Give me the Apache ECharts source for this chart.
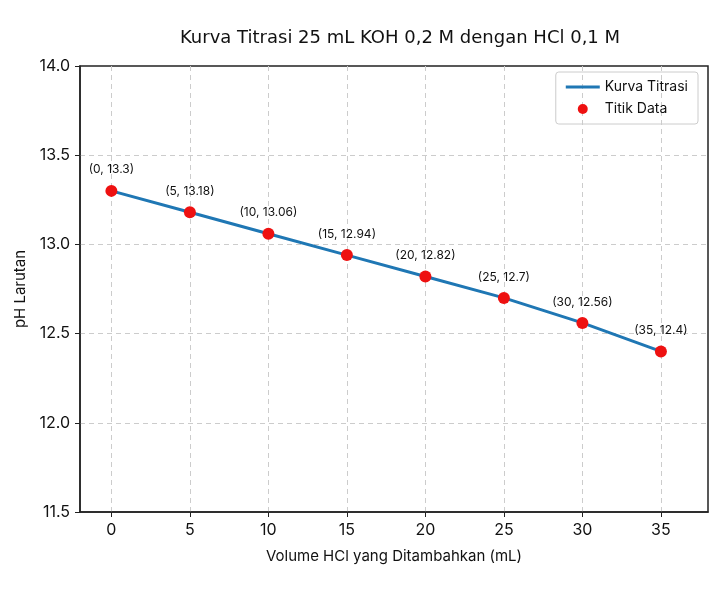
<!DOCTYPE html>
<html>
<head>
<meta charset="utf-8">
<script src="https://cdn.jsdelivr.net/npm/echarts@6/dist/echarts.min.js"></script>
<style>
  html, body { margin: 0; padding: 0; background: #fff; }
  #chart { width: 720px; height: 609px; }
</style>
</head>
<body>
<div id="chart"></div>
<script>
// data
const volumes = [0, 5, 10, 15, 20, 25, 30, 35];
const phValues = [13.3, 13.18, 13.06, 12.94, 12.82, 12.7, 12.56, 12.4];
const xTicks = [0, 5, 10, 15, 20, 25, 30, 35];

const points = volumes.map((v, i) => [v, phValues[i]]);
const font = 'Inter, "DejaVu Sans", sans-serif';

const chart = echarts.init(document.getElementById('chart'));

chart.setOption({
  animation: false,
  title: {
    text: 'Kurva Titrasi 25 mL KOH 0,2 M dengan HCl 0,1 M',
    left: 395,
    top: 24,
    textAlign: 'center',
    textStyle: { fontFamily: '"DejaVu Sans", sans-serif', fontSize: 18, fontWeight: 'normal', color: '#111' }
  },
  legend: {
    right: 22,
    top: 72,
    orient: 'vertical',
    itemGap: 8,
    padding: [8, 10, 8, 10],
    borderColor: '#ccc',
    borderWidth: 1,
    borderRadius: 3,
    itemWidth: 34,
    itemHeight: 10,
    textStyle: { fontFamily: font, fontSize: 14, color: '#111' },
    data: [
      { name: 'Kurva Titrasi', icon: 'path://M0,3.5 L34,3.5 L34,6.5 L0,6.5 Z' },
      { name: 'Titik Data', icon: 'circle' }
    ]
  },
  grid: { left: 80, top: 66, right: 12, bottom: 97, show: true, borderColor: '#222', borderWidth: 1.5 },
  xAxis: {
    type: 'value',
    min: -2,
    max: 38,
    name: 'Volume HCl yang Ditambahkan (mL)',
    nameLocation: 'middle',
    nameGap: 37,
    nameTextStyle: { fontFamily: font, fontSize: 15, color: '#111' },
    axisLine: { show: true, onZero: false, lineStyle: { color: '#222', width: 1.5 } },
    axisTick: { show: true, customValues: xTicks, length: 5, lineStyle: { color: '#222' } },
    axisLabel: { customValues: xTicks, fontFamily: font, fontSize: 16, color: '#111', margin: 10 },
    splitLine: { show: true, lineStyle: { color: '#ccc', type: [5, 4] } }
  },
  yAxis: {
    type: 'value',
    min: 11.5,
    max: 14.0,
    interval: 0.5,
    name: 'pH Larutan',
    nameLocation: 'middle',
    nameGap: 52,
    nameTextStyle: { fontFamily: font, fontSize: 15, color: '#111' },
    axisLine: { show: true, onZero: false, lineStyle: { color: '#222', width: 1.5 } },
    axisTick: { show: true, length: 5, lineStyle: { color: '#222' } },
    axisLabel: {
      fontFamily: font, fontSize: 16, color: '#111', margin: 10,
      formatter: v => v.toFixed(1)
    },
    splitLine: { show: true, showMinLine: false, showMaxLine: false, lineStyle: { color: '#ccc', type: [5, 4] } }
  },
  series: [
    {
      name: 'Kurva Titrasi',
      type: 'line',
      data: points,
      showSymbol: false,
      lineStyle: { color: '#1f77b4', width: 3 },
      itemStyle: { color: '#1f77b4' },
      z: 2
    },
    {
      name: 'Titik Data',
      type: 'scatter',
      data: points,
      symbolSize: 12,
      itemStyle: { color: '#ee1111', opacity: 1 },
      label: {
        show: true,
        position: 'top',
        distance: 9,
        fontFamily: font,
        fontSize: 12,
        color: '#111',
        formatter: p => '(' + p.value[0] + ', ' + p.value[1] + ')'
      },
      z: 3
    }
  ]
});
</script>
</body>
</html>
